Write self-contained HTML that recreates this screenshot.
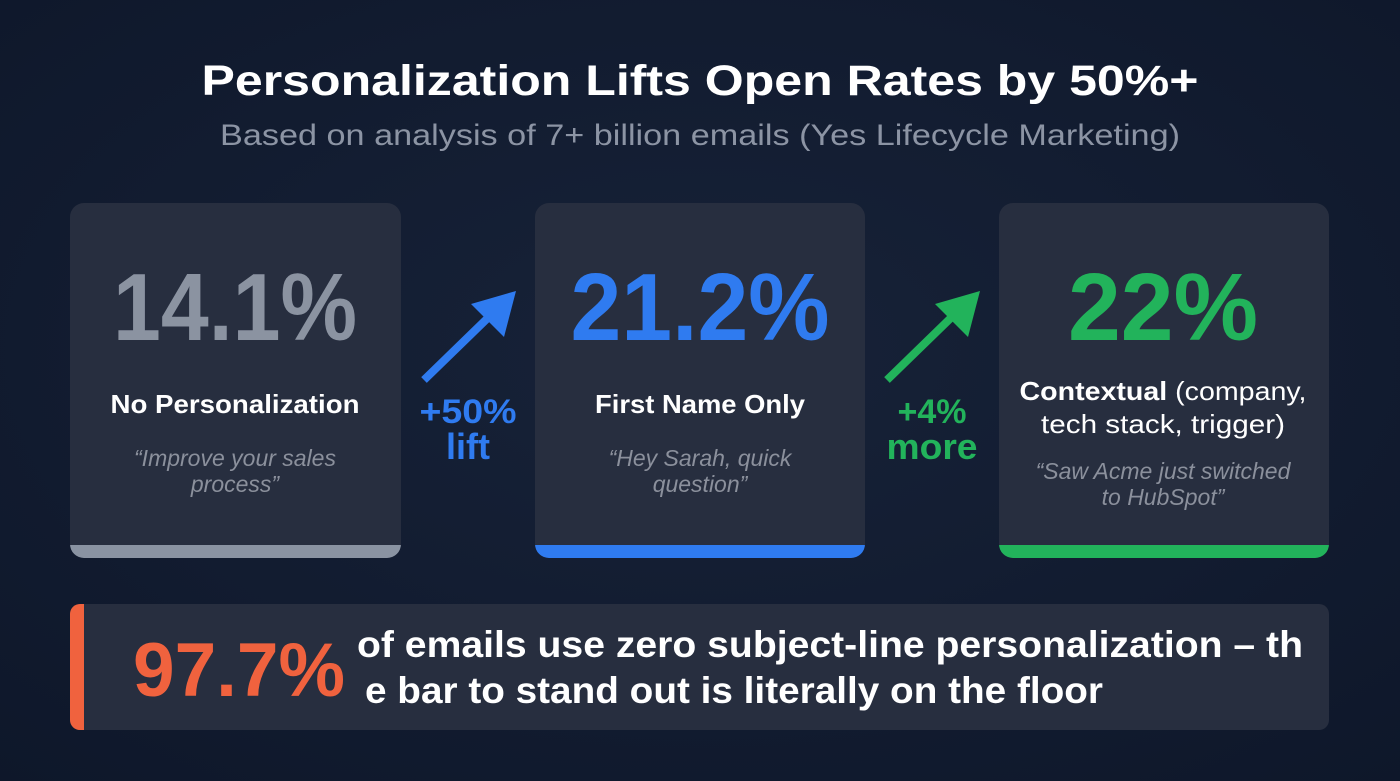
<!DOCTYPE html>
<html><head><meta charset="utf-8"><style>
html,body{margin:0;padding:0;background:#101a2d;}
svg{display:block;font-family:"Liberation Sans",sans-serif;}
</style></head><body>
<svg width="1400" height="781" viewBox="0 0 1400 781">
<defs>
<radialGradient id="bg" cx="50%" cy="45%" r="75%"><stop offset="0" stop-color="#172238"/><stop offset="1" stop-color="#0e172a"/></radialGradient>
<clipPath id="c1"><rect x="70" y="203" width="331" height="355" rx="14"/></clipPath>
<clipPath id="c2"><rect x="535" y="203" width="330" height="355" rx="14"/></clipPath>
<clipPath id="c3"><rect x="999" y="203" width="330" height="355" rx="14"/></clipPath>
<clipPath id="cb"><rect x="70" y="604" width="1259" height="126" rx="10"/></clipPath>
</defs>
<rect width="1400" height="781" fill="url(#bg)"/>
<text x="700" y="95" text-anchor="middle" font-size="43" font-weight="bold" fill="#ffffff" textLength="997" lengthAdjust="spacingAndGlyphs">Personalization Lifts Open Rates by 50%+</text>
<text x="700" y="145" text-anchor="middle" font-size="30" fill="#8c94a4" textLength="960" lengthAdjust="spacingAndGlyphs">Based on analysis of 7+ billion emails (Yes Lifecycle Marketing)</text>

<g clip-path="url(#c1)">
<rect x="70" y="203" width="331" height="355" fill="#272e3f"/>
<rect x="70" y="545" width="331" height="13" fill="#8a93a2"/>
</g>
<g clip-path="url(#c2)">
<rect x="535" y="203" width="330" height="355" fill="#272e3f"/>
<rect x="535" y="545" width="330" height="13" fill="#2f7bf0"/>
</g>
<g clip-path="url(#c3)">
<rect x="999" y="203" width="330" height="355" fill="#272e3f"/>
<rect x="999" y="545" width="330" height="13" fill="#22b35b"/>
</g>

<text id="v0" x="235" y="340" text-anchor="middle" font-size="96" font-weight="bold" fill="#8b93a1" textLength="244" lengthAdjust="spacingAndGlyphs">14.1%</text>
<text id="v1" x="700" y="340" text-anchor="middle" font-size="96" font-weight="bold" fill="#2f7bf0" textLength="259" lengthAdjust="spacingAndGlyphs">21.2%</text>
<text id="v2" x="1163" y="340" text-anchor="middle" font-size="96" font-weight="bold" fill="#22b35b" textLength="190" lengthAdjust="spacingAndGlyphs">22%</text>

<text x="235" y="413" text-anchor="middle" font-size="26" font-weight="bold" fill="#fff" textLength="249" lengthAdjust="spacingAndGlyphs">No Personalization</text>
<text x="700" y="413" text-anchor="middle" font-size="26" font-weight="bold" fill="#fff" textLength="210" lengthAdjust="spacingAndGlyphs">First Name Only</text>
<text x="1163" y="400" text-anchor="middle" font-size="26" fill="#fff" textLength="287" lengthAdjust="spacingAndGlyphs"><tspan font-weight="bold">Contextual</tspan> (company,</text>
<text x="1163" y="433" text-anchor="middle" font-size="26" fill="#fff" textLength="244" lengthAdjust="spacingAndGlyphs">tech stack, trigger)</text>

<g font-size="23" font-style="italic" fill="#8b909c" text-anchor="middle">
<text x="235" y="466">“Improve your sales</text>
<text x="235" y="492">process”</text>
<text x="700" y="466">“Hey Sarah, quick</text>
<text x="700" y="492">question”</text>
<text x="1163" y="479">“Saw Acme just switched</text>
<text x="1163" y="505">to HubSpot”</text>
</g>

<g>
<line x1="424" y1="380" x2="496" y2="310" stroke="#2f7bf0" stroke-width="8"/>
<polygon points="516,291 504,337 471,304" fill="#2f7bf0"/>
</g>
<text x="468" y="423" text-anchor="middle" font-size="34" font-weight="bold" fill="#2f7bf0" textLength="97" lengthAdjust="spacingAndGlyphs">+50%</text>
<text x="468" y="459" text-anchor="middle" font-size="36" font-weight="bold" fill="#2f7bf0">lift</text>
<g>
<line x1="887" y1="380" x2="959" y2="310" stroke="#22b35b" stroke-width="8"/>
<polygon points="980,291 968,337 935,304" fill="#22b35b"/>
</g>
<text x="932" y="423" text-anchor="middle" font-size="34" font-weight="bold" fill="#22b35b">+4%</text>
<text x="932" y="459" text-anchor="middle" font-size="36" font-weight="bold" fill="#22b35b" textLength="91" lengthAdjust="spacingAndGlyphs">more</text>

<g clip-path="url(#cb)">
<rect x="70" y="604" width="1259" height="126" fill="#272e3f"/>
<rect x="70" y="604" width="14" height="126" fill="#f0623e"/>
<text x="133" y="696" font-size="76" font-weight="bold" fill="#f0623e" textLength="212" lengthAdjust="spacingAndGlyphs">97.7%</text>
<text x="357" y="657" font-size="37" font-weight="bold" fill="#fff" textLength="946" lengthAdjust="spacingAndGlyphs">of emails use zero subject-line personalization – th</text>
<text x="365" y="703" font-size="37" font-weight="bold" fill="#fff" textLength="738" lengthAdjust="spacingAndGlyphs">e bar to stand out is literally on the floor</text>
</g>
</svg>
<script>
const categories = ["No Personalization","First Name Only","Contextual"];
const openRates = [14.1, 21.2, 22];
openRates.forEach(function(v,i){ document.getElementById('v'+i).textContent = v + '%'; });
</script>
</body></html>
